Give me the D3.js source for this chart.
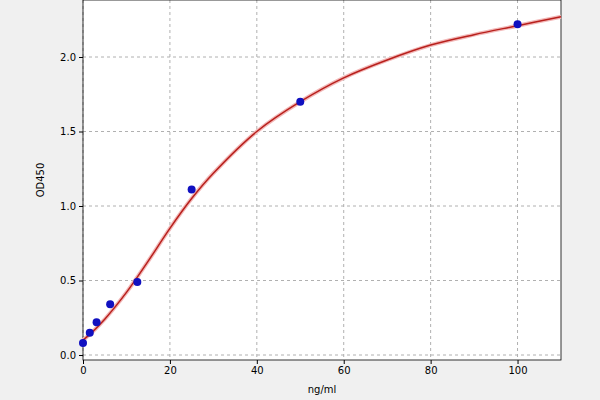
<!DOCTYPE html><html><head><script src="https://cdn.jsdelivr.net/npm/d3@7"></script>
<style>body{margin:0;background:#f0f0f0}</style></head><body><svg id="c" width="600" height="400"></svg>
<script>
const ptX=[0,1.56,3.125,6.25,12.5,25,50,100];
const ptY=[0.08,0.15,0.22,0.34,0.49,1.11,1.70,2.22];
const curveX=[0,2,5,10,15,20,25,30,40,50,60,70,80,90,100,110];
const curveY=[0.10,0.15,0.24,0.42,0.63,0.85,1.05,1.22,1.50,1.70,1.86,1.98,2.08,2.15,2.21,2.27];
const xTicks=[0,20,40,60,80,100];
const yTicks=[0.0,0.5,1.0,1.5,2.0];
const svg=d3.select("#c");
const L=83,R=561,T=0,B=360;
const x=d3.scaleLinear().domain([0,110]).range([L,R]);
const y=d3.scaleLinear().domain([0,2]).range([355,57]);
svg.append("rect").attr("x",L).attr("y",T).attr("width",R-L).attr("height",B-T).attr("fill","#fff");
const g=svg.append("g");
xTicks.forEach(t=>g.append("line").attr("x1",x(t)).attr("x2",x(t)).attr("y1",T).attr("y2",B).attr("stroke","#b0b0b0").attr("stroke-dasharray","3,3"));
yTicks.forEach(t=>g.append("line").attr("x1",L).attr("x2",R).attr("y1",y(t)).attr("y2",y(t)).attr("stroke","#b0b0b0").attr("stroke-dasharray","3,3"));
svg.append("rect").attr("x",L).attr("y",T).attr("width",R-L).attr("height",B-T).attr("fill","none").attr("stroke","#000").attr("stroke-width",0.8);
svg.append("g").attr("transform",`translate(0,${B})`).call(d3.axisBottom(x).tickValues(xTicks).tickSize(4)).call(a=>a.select(".domain").remove()).selectAll("text").attr("font-family","DejaVu Sans").attr("font-size",10).attr("fill","#000");
svg.append("g").attr("transform",`translate(${L},0)`).call(d3.axisLeft(y).tickValues(yTicks).tickFormat(d3.format(".1f")).tickSize(4)).call(a=>a.select(".domain").remove()).selectAll("text").attr("font-family","DejaVu Sans").attr("font-size",10).attr("fill","#000");
svg.append("text").attr("x",(L+R)/2).attr("y",393).attr("text-anchor","middle").attr("font-family","DejaVu Sans").attr("font-size",10).text("ng/ml");
svg.append("text").attr("transform",`translate(44,${(T+B)/2}) rotate(-90)`).attr("text-anchor","middle").attr("font-family","DejaVu Sans").attr("font-size",10).text("OD450");
const line=d3.line().x((d,i)=>x(curveX[i])).y(d=>y(d)).curve(d3.curveCatmullRom);
svg.append("path").attr("d",line(curveY)).attr("fill","none").attr("stroke","#f2b8b8").attr("stroke-width",4);
svg.append("path").attr("d",line(curveY)).attr("fill","none").attr("stroke","#b8201c").attr("stroke-width",1.5);
svg.selectAll("circle").data(ptY).enter().append("circle").attr("cx",(d,i)=>x(ptX[i])).attr("cy",d=>y(d)).attr("r",4).attr("fill","#1010c0");
</script></body></html>
